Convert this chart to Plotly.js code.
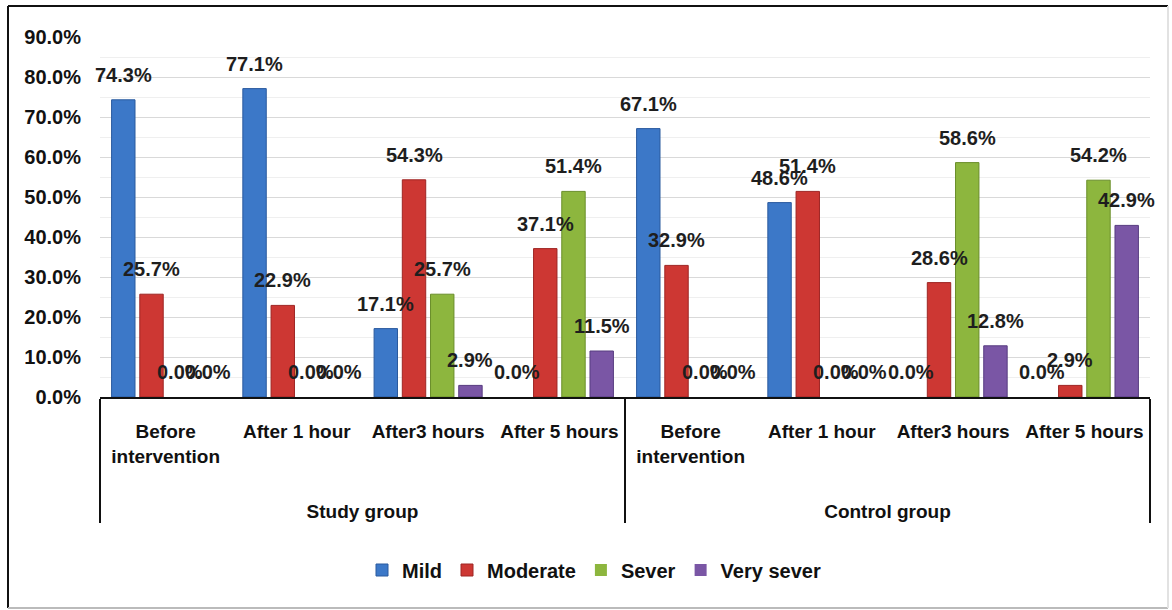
<!DOCTYPE html>
<html>
<head>
<meta charset="utf-8">
<script src="https://cdn.plot.ly/plotly-3.0.1.min.js"></script>
<style>
  html, body { margin: 0; padding: 0; background: #ffffff; }
  #chart { width: 1172px; height: 610px; }
</style>
</head>
<body>
<div id="chart"></div>
<script>
// ---- data ----
const groups = ["Study group", "Study group", "Study group", "Study group",
                "Control group", "Control group", "Control group", "Control group"];
const times = ["Before<br>intervention", "After 1 hour", "After3 hours", "After 5 hours",
               "Before<br>intervention", "After 1 hour", "After3 hours", "After 5 hours"];
const seriesNames = ["Mild", "Moderate", "Sever", "Very sever"];
const mild      = [74.3, 77.1, 17.1, 0.0, 67.1, 48.6, 0.0, 0.0];
const moderate  = [25.7, 22.9, 54.3, 37.1, 32.9, 51.4, 28.6, 2.9];
const sever     = [0.0, 0.0, 25.7, 51.4, 0.0, 0.0, 58.6, 54.2];
const verySever = [0.0, 0.0, 2.9, 11.5, 0.0, 0.0, 12.8, 42.9];
const yTicks = [0, 10, 20, 30, 40, 50, 60, 70, 80, 90];

// ---- styles ----
const colors = ["#3C78C8", "#CD3733", "#8DB63E", "#7A56A5"];
const edges  = ["#2A5A9E", "#9E2624", "#6A8E2A", "#573C80"];
const FONT = "Liberation Sans, Arial, sans-serif";
const BARGAP = 0.14, GROUPGAP = 0.17;

// blank lines under the first-level labels push the group labels lower (layout only)
const LABEL_PAD = "<br>\u00a0<br>\u00a0";
const timeLabels = times.map(t => t + LABEL_PAD);

const seriesVals = [mild, moderate, sever, verySever];
const traces = seriesVals.map((vals, s) => ({
  type: "bar",
  name: seriesNames[s],
  x: [groups, timeLabels],
  y: vals,
  marker: {
    color: colors[s],
    line: { color: edges[s], width: vals.map(v => (v > 0 ? 1 : 0)) }
  },
  hoverinfo: "skip"
}));

// data labels as annotations above each bar
const n = seriesVals.length;
const slot = (1 - BARGAP) / n;
const annotations = [];
seriesVals.forEach((vals, s) => {
  vals.forEach((v, i) => {
    annotations.push({
      x: i + (s - (n - 1) / 2) * slot,
      y: v,
      xref: "x", yref: "y",
      text: v.toFixed(1) + "%",
      showarrow: false,
      yshift: 25,
      font: { family: FONT, size: 20, weight: 700, color: "#1e1e1e" }
    });
  });
});

// plot-area geometry in pixels, for the outer frame
const L = 100, R = 22, T = 37, B = 213, W = 1172, H = 610;
const pw = W - L - R, ph = H - T - B;
const px = (xp) => (xp - L) / pw;
const py = (yp) => (H - B - yp) / ph;

const shapes = [
  { type: "line", xref: "paper", yref: "paper", x0: px(8), x1: px(1168), y0: py(6), y1: py(6), line: { color: "#111", width: 2 } },
  { type: "line", xref: "paper", yref: "paper", x0: px(8), x1: px(8), y0: py(6), y1: py(608), line: { color: "#111", width: 2 } },
  { type: "line", xref: "paper", yref: "paper", x0: px(8), x1: px(1168), y0: py(608), y1: py(608), line: { color: "#BBBBBB", width: 2 } },
  { type: "line", xref: "paper", yref: "paper", x0: px(1168), x1: px(1168), y0: py(6), y1: py(608), line: { color: "#E2E2E2", width: 2 } }
];

const layout = {
  width: W, height: H,
  margin: { l: L, r: R, t: T, b: B },
  paper_bgcolor: "#ffffff",
  plot_bgcolor: "#ffffff",
  barmode: "group",
  bargap: BARGAP,
  bargroupgap: GROUPGAP,
  showlegend: true,
  legend: {
    orientation: "h",
    x: px(594), xanchor: "center",
    y: py(570), yanchor: "middle",
    font: { family: FONT, size: 20, weight: 700, color: "#111" },
    itemwidth: 30,
    traceorder: "normal"
  },
  xaxis: {
    type: "multicategory",
    range: [-0.5, groups.length - 0.5],
    showline: true, linecolor: "#111", linewidth: 1.5,
    showdividers: true, dividercolor: "#111", dividerwidth: 1.5,
    ticks: "",
    tickangle: 0,
    ticklabelstandoff: 17,
    tickfont: { family: FONT, size: 19, weight: 700, color: "#111" },
    showgrid: false, zeroline: false
  },
  yaxis: {
    range: [0, 90],
    tickvals: yTicks,
    ticktext: yTicks.map(v => v.toFixed(1) + "%"),
    showgrid: true, gridcolor: "#D9D9D9", gridwidth: 1,
    minor: { dtick: 5, showgrid: true, gridcolor: "#EFEFEF", gridwidth: 1 },
    zeroline: false, showline: false,
    ticks: "",
    ticklabelstandoff: 18,
    tickfont: { family: FONT, size: 20, weight: 700, color: "#111" }
  },
  annotations: annotations,
  shapes: shapes
};

Plotly.newPlot("chart", traces, layout, { displayModeBar: false, staticPlot: true });
</script>
</body>
</html>
